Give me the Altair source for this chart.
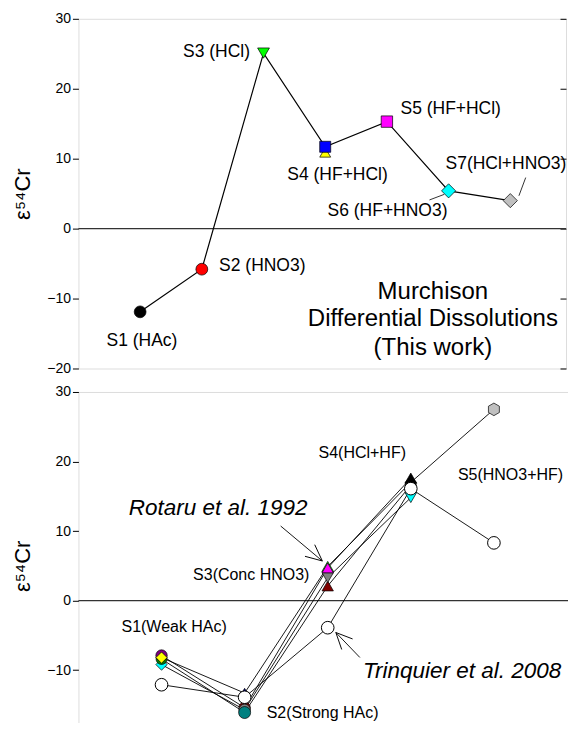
import altair as alt
import pandas as pd

FONT = "Liberation Sans"

# ---------------- top panel: Murchison differential dissolutions (this work)
top_step = [1, 2, 3, 4, 5, 6, 7]
top_eps = [-11.9, -5.8, 25.1, 11.7, 15.3, 5.4, 4.0]
top_fill = ["#000000", "#ff0000", "#00ff00", "#0000ff", "#ff00ff", "#00ffff", "#c0c0c0"]
top_shape = ["circle", "circle", "triangle-down", "square", "square", "diamond", "diamond"]
top_size = [140, 140, 140, 121, 130, 200, 200]
top_label = ["S1 (HAc)", "S2 (HNO3)", "S3 (HCl)", "S4 (HF+HCl)", "S5 (HF+HCl)",
             "S6 (HF+HNO3)", "S7(HCl+HNO3)"]
# replicate measurement hidden behind S4
top_rep_step = [4]
top_rep_eps = [10.9]
top_rep_fill = ["#ffff00"]
top_rep_shape = ["triangle-up"]

# label anchors (data units)
top_label_x = [1.03, 2.28, 2.78, 4.20, 5.22, 5.01, 6.93]
top_label_y = [-16.0, -5.4, 25.2, 7.6, 17.1, 2.5, 9.2]
top_label_align = ["center", "left", "right", "center", "left", "center", "center"]
top_leader_x = [5.69, 7.25]
top_leader_y = [4.1, 7.3]
top_leader_x2 = [5.93, 7.14]
top_leader_y2 = [4.9, 4.7]
top_note = ["Murchison", "Differential Dissolutions", "(This work)"]
top_note_x = [5.745, 5.745, 5.745]
top_note_y = [-9.0, -12.9, -17.0]

# ---------------- bottom panel: literature data
trin_step = [1, 2, 3, 4, 5]
trin_eps = [-12.1, -13.9, -3.9, 16.1, 8.3]

rot_id = ["C", "D", "A", "B",
          "A", "C", "B", "D",
          "D", "C", "B", "A",
          "B", "D", "A", "C",
          "B"]
rot_step = [1, 1, 1, 1,
            2, 2, 2, 2,
            3, 3, 3, 3,
            4, 4, 4, 4,
            5]
rot_eps = [-9.2, -8.4, -7.9, -8.2,
           -15.4, -15.7, -13.3, -16.1,
           2.1, 3.3, 4.9, 4.7,
           17.0, 16.6, 17.6, 14.8,
           27.5]
HEX = "M0,-1.15L1,-0.575L1,0.575L0,1.15L-1,0.575L-1,-0.575Z"
rot_fill = ["#00ffff", "#008000", "#800080", "#ffff00",
            "#800000", "#808080", "#000080", "#008080",
            "#800000", "#808080", "#00ff00", "#ff00ff",
            "#808000", "#404040", "#000000", "#00ffff",
            "#c0c0c0"]
rot_shape = ["diamond", "circle", "circle", "diamond",
             "circle", "circle", "triangle-up", "circle",
             "triangle-up", "triangle-down", "triangle-up", "triangle-up",
             "diamond", "circle", "triangle-up", "triangle-down",
             HEX]
rot_size = [128, 120, 130, 128,
            130, 130, 120, 144,
            130, 130, 140, 130,
            128, 120, 140, 130,
            120]

bot_label = ["S1(Weak HAc)", "S2(Strong HAc)", "S3(Conc HNO3)", "S4(HCl+HF)", "S5(HNO3+HF)"]
bot_label_x = [1.152, 2.265, 2.779, 3.416, 5.2]
bot_label_y = [-3.87, -16.2, 3.69, 21.2, 18.1]
bot_label_align = ["center", "left", "right", "center", "center"]
ref_label = ["Rotaru et al. 1992", "Trinquier et al. 2008"]
ref_label_x = [1.681, 4.617]
ref_label_y = [13.3, -10.1]
arrow_x = [2.434, 3.387]
arrow_y = [10.72, -8.18]
arrow_x2 = [2.935, 3.098]
arrow_y2 = [5.70, -4.59]
arrow_angle = [130, 316]

ticks = [-20, -10, 0, 10, 20, 30]
ARROWHEAD = "M-0.466,1L0,0L0.466,1"

ysc = alt.Scale(domain=[-20, 30], nice=False, zero=False)


def left_axis():
    return alt.Axis(values=ticks, tickSize=6, labelPadding=2, domain=False, grid=False,
                    labelFontSize=14, labelFont=FONT, labelColor="black", tickColor="black",
                    title="ε⁵⁴Cr", titleFontSize=22, titleFont=FONT, titleFontWeight="normal",
                    titleColor="black", titlePadding=12)


def right_axis():
    return alt.Axis(orient="right", values=ticks, tickSize=6, offset=-6, labels=False,
                    domain=False, grid=False, tickColor="black", minExtent=0, maxExtent=0)


def panel(xsc, w, h, line_df, line_detail, pts_df, extra_layers, lw):
    X = lambda f: alt.X(f, type="quantitative", scale=xsc, axis=None)
    Yn = lambda f: alt.Y(f, type="quantitative", scale=ysc, axis=None)
    zero = alt.Chart(pd.DataFrame({"v": [0]})).mark_rule(color="#333333", strokeWidth=1.4).encode(
        y=Yn("v"))
    enc = dict(x=X("step"), y=alt.Y("eps:Q", scale=ysc, axis=left_axis()), order="step:Q")
    if line_detail:
        enc["detail"] = line_detail
    line = alt.Chart(line_df).mark_line(color="black", strokeWidth=lw).encode(**enc)
    pts = alt.Chart(pts_df).mark_point(filled=True, opacity=1, stroke="black", strokeWidth=0.7).encode(
        x=X("step"), y=alt.Y("eps:Q", scale=ysc, axis=right_axis(), title=None),
        shape=alt.Shape("shape:N", scale=None), fill=alt.Fill("fill:N", scale=None),
        size=alt.Size("size:Q", scale=None))
    layers = [zero, line] + extra_layers["under"] + [pts] + extra_layers["over"]
    return alt.layer(*layers).resolve_axis(y="independent").properties(width=w, height=h)


def texts(df, size, style="normal"):
    out = []
    for a in ["left", "center", "right"]:
        sub = df[df["align"] == a]
        if len(sub):
            out.append(alt.Chart(sub).mark_text(font=FONT, fontSize=size, align=a, baseline="middle",
                                                color="black", fontStyle=style).encode(
                x=alt.X("x:Q", axis=None), y=alt.Y("y:Q", axis=None), text="label:N"))
    return out


# ---- top (same px per unit as before, right edge trimmed to stay inside the page)
xsc_top = alt.Scale(domain=[0, 7.903], nice=False, zero=False)
top_df = pd.DataFrame({"step": top_step, "eps": top_eps, "fill": top_fill,
                       "shape": top_shape, "size": top_size})
rep_df = pd.DataFrame({"step": top_rep_step, "eps": top_rep_eps, "fill": top_rep_fill,
                       "shape": top_rep_shape, "size": [120]})
rep = alt.Chart(rep_df).mark_point(filled=True, opacity=1, stroke="black", strokeWidth=0.7).encode(
    x=alt.X("step:Q", scale=xsc_top, axis=None), y=alt.Y("eps:Q", scale=ysc, axis=None),
    shape=alt.Shape("shape:N", scale=None), fill=alt.Fill("fill:N", scale=None),
    size=alt.Size("size:Q", scale=None))
tl_df = pd.DataFrame({"x": top_label_x, "y": top_label_y, "label": top_label, "align": top_label_align})
lead_df = pd.DataFrame({"x": top_leader_x, "y": top_leader_y, "x2": top_leader_x2, "y2": top_leader_y2})
leaders = alt.Chart(lead_df).mark_rule(color="black", strokeWidth=0.8).encode(
    x=alt.X("x:Q", axis=None), y=alt.Y("y:Q", axis=None), x2="x2:Q", y2="y2:Q")
note_df = pd.DataFrame({"x": top_note_x, "y": top_note_y, "label": top_note,
                        "align": ["center"] * 3})
top_chart = panel(xsc_top, 488, 350, top_df, None, top_df,
                  {"under": [rep, leaders], "over": texts(tl_df, 17.5) + texts(note_df, 24)}, 1.2)

# ---- bottom
xsc_bot = alt.Scale(domain=[0, 6], nice=False, zero=False)
rot_df = pd.DataFrame({"series": rot_id, "step": rot_step, "eps": rot_eps, "fill": rot_fill,
                       "shape": rot_shape, "size": rot_size})
trin_df = pd.DataFrame({"series": ["T"] * 5, "step": trin_step, "eps": trin_eps})
lines_df = pd.concat([rot_df[["series", "step", "eps"]], trin_df], ignore_index=True)
trin_pts = alt.Chart(trin_df).mark_point(filled=True, opacity=1, fill="white", stroke="black",
                                         strokeWidth=1, shape="circle", size=160).encode(
    x=alt.X("step:Q", scale=xsc_bot, axis=None), y=alt.Y("eps:Q", scale=ysc, axis=None))
bl_df = pd.DataFrame({"x": bot_label_x, "y": bot_label_y, "label": bot_label, "align": bot_label_align})
rl_df = pd.DataFrame({"x": ref_label_x, "y": ref_label_y, "label": ref_label, "align": ["center"] * 2})
arr_df = pd.DataFrame({"x": arrow_x, "y": arrow_y, "x2": arrow_x2, "y2": arrow_y2, "angle": arrow_angle})
arrows = alt.Chart(arr_df).mark_rule(color="black", strokeWidth=0.9).encode(
    x=alt.X("x:Q", axis=None), y=alt.Y("y:Q", axis=None), x2="x2:Q", y2="y2:Q")
heads = alt.Chart(arr_df).mark_point(shape=ARROWHEAD, size=1060, filled=False, opacity=1,
                                     color="black", strokeWidth=0.9).encode(
    x=alt.X("x2:Q", axis=None), y=alt.Y("y2:Q", axis=None), angle=alt.Angle("angle:Q", scale=None))
bot_chart = panel(xsc_bot, 499, 348, lines_df, "series:N", rot_df,
                  {"under": [arrows, heads],
                   "over": [trin_pts] + texts(bl_df, 16) + texts(rl_df, 22.5, "italic")}, 0.9)

chart = alt.vconcat(top_chart, bot_chart, spacing=7.5).properties(
    padding={"left": 2.5, "top": 2.5, "right": -11, "bottom": -25}
).configure_view(stroke="black", strokeWidth=1.2).configure(font=FONT)

chart.save("out.html", embed_options={"renderer": "svg", "actions": False})
